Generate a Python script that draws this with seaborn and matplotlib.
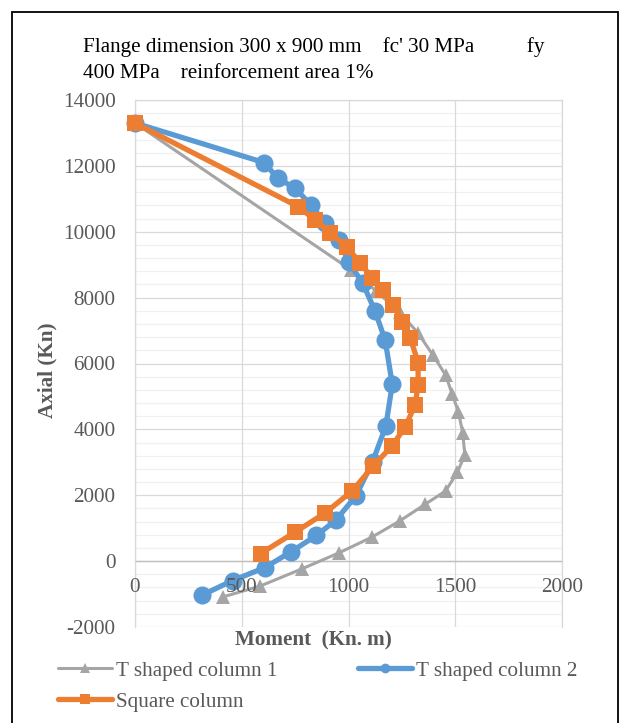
import matplotlib
matplotlib.use("Agg")
import matplotlib.pyplot as plt
import numpy as np
import pandas as pd
import seaborn as sns
from matplotlib.patches import Rectangle
from matplotlib.ticker import MultipleLocator

# interaction diagram values (moment kN.m, axial kN)
moment_t1 = [0, 1010, 1130, 1240, 1325, 1395, 1455, 1485, 1515, 1535, 1545,
             1510, 1455, 1360, 1240, 1110, 955, 780, 585, 410]
axial_t1 = [13300, 8850, 8200, 7550, 6930, 6260, 5650, 5080, 4530, 3890, 3220,
            2700, 2130, 1730, 1220, 730, 250, -240, -760, -1090]

moment_t2 = [0, 605, 668, 750, 826, 888, 957, 1000, 1066, 1125, 1172, 1205,
             1175, 1113, 1035, 940, 850, 730, 607, 457, 315]
axial_t2 = [13300, 12100, 11630, 11320, 10800, 10280, 9760, 9080, 8450, 7580,
            6700, 5370, 4100, 3020, 1980, 1240, 780, 280, -200, -590, -1030]

moment_sq = [0, 765, 843, 914, 993, 1054, 1110, 1162, 1209, 1251, 1289, 1326,
             1326, 1312, 1265, 1204, 1115, 1017, 890, 750, 588]
axial_sq = [13300, 10760, 10360, 9970, 9530, 9060, 8600, 8220, 7780, 7260, 6780,
            6030, 5350, 4740, 4070, 3500, 2880, 2130, 1460, 880, 230]

series_names = ["T shaped column 1", "T shaped column 2", "Square column"]
x_ticks = [0, 500, 1000, 1500, 2000]

sns.set_style("white")
plt.rcParams["font.family"] = ["Liberation Serif", "DejaVu Serif"]
plt.rcParams["axes.unicode_minus"] = False

W, H = 625, 723
FS = 15.2
fig = plt.figure(figsize=(W / 100, H / 100), dpi=100)
ax = fig.add_axes([135 / W, 1 - 627 / H, (562 - 135) / W, (627 - 100) / H])

grey, blue, orange = "#A5A5A5", "#5B9BD5", "#ED7D31"
lab_col = "#595959"

sns.lineplot(x=moment_t1, y=axial_t1, sort=False, estimator=None, ax=ax,
             color=grey, lw=2.2, marker="^", markersize=10, markeredgewidth=0,
             label=series_names[0], zorder=3, clip_on=False)
sns.lineplot(x=moment_t2, y=axial_t2, sort=False, estimator=None, ax=ax,
             color=blue, lw=3.8, marker="o", markersize=13, markeredgewidth=0,
             label=series_names[1], zorder=4, clip_on=False)
sns.lineplot(x=moment_sq, y=axial_sq, sort=False, estimator=None, ax=ax,
             color=orange, lw=3.8, marker="s", markersize=12, markeredgewidth=0,
             label=series_names[2], zorder=5, clip_on=False)

ax.set_xlim(0, 2000)
ax.set_ylim(-2000, 14000)
ax.set_xticks(x_ticks)
ax.yaxis.set_major_locator(MultipleLocator(2000))
ax.yaxis.set_minor_locator(MultipleLocator(400))
ax.grid(True, which="major", axis="y", color="#D9D9D9", lw=0.9)
ax.grid(True, which="minor", axis="y", color="#F0F0F0", lw=0.9)
ax.set_axisbelow(True)
# vertical gridlines kept under the data, x tick labels drawn above it
for xv in x_ticks:
    ax.axvline(xv, color="#D9D9D9", lw=0.9, zorder=0.6)
ax.xaxis.set_zorder(6)

for side in ["left", "right", "top"]:
    ax.spines[side].set_color("#D9D9D9")
    ax.spines[side].set_linewidth(0.9)
ax.spines["bottom"].set_position(("data", 0))
ax.spines["bottom"].set_color("#BFBFBF")
ax.spines["bottom"].set_linewidth(1.0)
ax.spines["bottom"].set_zorder(0.7)

ax.tick_params(axis="both", which="both", length=0, labelsize=FS,
               labelcolor=lab_col)
ax.tick_params(axis="x", pad=12)
ax.tick_params(axis="y", pad=14)

ax.set_xlabel("Moment  (Kn. m)", fontsize=FS, fontweight="bold", color=lab_col)
ax.xaxis.set_label_coords((313 - 135) / 427, (627 - 640) / 527)
ax.xaxis.label.set_va("center")
ax.set_ylabel("Axial (Kn)", fontsize=FS, fontweight="bold", color=lab_col)
ax.yaxis.set_label_coords((47 - 135) / 427, (627 - 370) / 527)
ax.yaxis.label.set_va("center")

fig.text(83 / W, 1 - 47 / H,
         "Flange dimension 300 x 900 mm    fc' 30 MPa          fy",
         fontsize=FS, ha="left", va="center", color="black")
fig.text(83 / W, 1 - 73 / H, "400 MPa    reinforcement area 1%",
         fontsize=FS, ha="left", va="center", color="black")

handles, labels = ax.get_legend_handles_labels()
ax.get_legend().remove()
order = [0, 2, 1]
leg = fig.legend([handles[i] for i in order], [labels[i] for i in order],
                 loc="upper left", bbox_to_anchor=(58 / W, 1 - 661 / H),
                 ncol=2, frameon=False, fontsize=FS, handlelength=2.56,
                 handletextpad=0.2, columnspacing=3.8, labelspacing=0.52,
                 borderaxespad=0, borderpad=0)
for txt in leg.get_texts():
    txt.set_color(lab_col)
for line in leg.get_lines():
    line.set_markersize(7)

fig.patches.append(Rectangle((12 / W, -0.1), (618 - 12) / W, 1.1 - 12 / H,
                             transform=fig.transFigure, fill=False,
                             edgecolor="black", lw=1.3))

fig.savefig("out.png", dpi=100)
